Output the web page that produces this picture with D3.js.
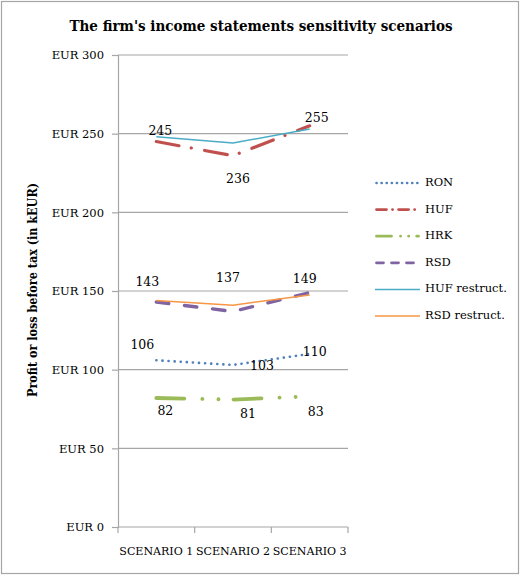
<!DOCTYPE html>
<html>
<head>
<meta charset="utf-8">
<script src="https://cdn.jsdelivr.net/npm/d3@7"></script>
<style>
  html, body { margin: 0; padding: 0; background: #fff; }
  svg { display: block; }
  text { font-family: "DejaVu Serif", "Liberation Serif", serif; fill: #000; }
</style>
</head>
<body>
<svg id="chart" width="520" height="576"></svg>
<script>
// Scenario categories and tick values
const scenarios = ["SCENARIO 1", "SCENARIO 2", "SCENARIO 3"];
const yTicks = [0, 50, 100, 150, 200, 250, 300];

// Profit or loss before tax per series (kEUR)
const ron = [106, 103, 110];
const huf = [245, 236, 255];
const hrk = [82, 81, 83];
const rsd = [143, 137, 149];
const hufRestruct = [248, 244, 253];
const rsdRestruct = [144, 141, 147.5];

const seriesNames = ["RON", "HUF", "HRK", "RSD", "HUF restruct.", "RSD restruct."];
const seriesValues = [ron, huf, hrk, rsd, hufRestruct, rsdRestruct];

const styles = [
  { color: "#4F81BD", width: 2.6, dash: "0.1 6", legendDash: "0.1 5", cap: "round" },
  { color: "#C0504D", width: 3.2, dash: "23 12.5 0.1 13.5", legendDash: "10 6 0.1 6", cap: "round" },
  { color: "#9BBB59", width: 3.8, dash: "28 18 0.1 16 0.1 15", legendDash: "15 9 0.1 8 0.1 8", cap: "round" },
  { color: "#8064A2", width: 3.4, dash: "12.5 15.8", legendDash: "7 8", cap: "round" },
  { color: "#4BACC6", width: 1.5, dash: null, legendDash: null, cap: "butt" },
  { color: "#F79646", width: 1.5, dash: null, legendDash: null, cap: "butt" }
];

// Data label placement offsets (dx, dy) for the labelled series
const labelled = [
  { values: ron, offsets: [[-14, -15], [29, 2], [5, -1]] },
  { values: huf, offsets: [[4, -10], [5, 24], [7, -7]] },
  { values: hrk, offsets: [[9, 14], [15, 15], [6, 16]] },
  { values: rsd, offsets: [[-9, -20], [-5, -33], [-5, -13]] }
];

const svg = d3.select("#chart");

// Outer frame
svg.append("rect")
  .attr("x", 1.5).attr("y", 1.5)
  .attr("width", 517).attr("height", 572)
  .attr("fill", "none").attr("stroke", "#a6a6a6").attr("stroke-width", 1.2);

const plot = { left: 118, right: 348, top: 55, bottom: 527 };

const x = d3.scaleBand().domain(scenarios).range([plot.left, plot.right]);
const y = d3.scaleLinear().domain([0, 300]).range([plot.bottom, plot.top]);

// Horizontal gridlines
svg.append("g")
  .selectAll("line")
  .data(yTicks.filter(t => t > 0))
  .join("line")
  .attr("x1", plot.left).attr("x2", plot.right)
  .attr("y1", d => y(d)).attr("y2", d => y(d))
  .attr("stroke", "#a6a6a6").attr("stroke-width", 1.2);

// Y axis
const yAxis = svg.append("g")
  .attr("transform", `translate(${plot.left},0)`)
  .call(d3.axisLeft(y).tickValues(yTicks).tickSize(6).tickPadding(8)
    .tickFormat(d => "EUR " + d));
yAxis.select(".domain").attr("stroke", "#a6a6a6").attr("stroke-width", 1.2);
yAxis.selectAll(".tick line").attr("stroke", "#a6a6a6").attr("stroke-width", 1.2);
yAxis.selectAll(".tick text")
  .attr("font-family", "DejaVu Serif, serif")
  .attr("font-size", 11.5).attr("fill", "#000");

// X axis with ticks at category boundaries
const xAxisG = svg.append("g").attr("transform", `translate(0,${plot.bottom})`);
xAxisG.append("line")
  .attr("x1", plot.left).attr("x2", plot.right)
  .attr("stroke", "#a6a6a6").attr("stroke-width", 1.2);
const bounds = scenarios.map(s => x(s)).concat([x(scenarios[2]) + x.bandwidth()]);
xAxisG.selectAll("line.tk").data(bounds).join("line")
  .attr("class", "tk")
  .attr("x1", d => d).attr("x2", d => d)
  .attr("y1", 0).attr("y2", 6)
  .attr("stroke", "#a6a6a6").attr("stroke-width", 1.2);
xAxisG.selectAll("text").data(scenarios).join("text")
  .attr("x", d => x(d) + x.bandwidth() / 2)
  .attr("y", 28)
  .attr("text-anchor", "middle")
  .attr("font-size", 11.5)
  .attr("textLength", 74)
  .attr("lengthAdjust", "spacingAndGlyphs")
  .text(d => d);

// Lines
const line = d3.line()
  .x((d, i) => x(scenarios[i]) + x.bandwidth() / 2)
  .y(d => y(d));

seriesValues.forEach((vals, i) => {
  const st = styles[i];
  svg.append("path")
    .datum(vals)
    .attr("d", line)
    .attr("fill", "none")
    .attr("stroke", st.color)
    .attr("stroke-width", st.width)
    .attr("stroke-linecap", st.cap)
    .attr("stroke-linejoin", "round")
    .attr("stroke-dasharray", st.dash);
});

// Data labels
labelled.forEach(s => {
  s.values.forEach((v, i) => {
    svg.append("text")
      .attr("x", x(scenarios[i]) + x.bandwidth() / 2 + s.offsets[i][0])
      .attr("y", y(v) + s.offsets[i][1])
      .attr("text-anchor", "middle")
      .attr("dominant-baseline", "middle")
      .attr("font-size", 12.5)
      .text(v);
  });
});

// Legend
const legend = svg.append("g").attr("transform", "translate(375,183)");
seriesNames.forEach((name, i) => {
  const st = styles[i];
  const g = legend.append("g").attr("transform", `translate(0,${i * 26.6})`);
  g.append("line")
    .attr("x1", st.cap === "round" ? 1.5 : 0).attr("x2", st.cap === "round" ? 43.5 : 45)
    .attr("stroke", st.color)
    .attr("stroke-width", Math.min(st.width, 2.8))
    .attr("stroke-linecap", st.cap)
    .attr("stroke-dasharray", st.legendDash);
  g.append("text")
    .attr("x", 50).attr("y", 0)
    .attr("dominant-baseline", "middle")
    .attr("font-size", 11.5)
    .text(name);
});

// Title
svg.append("text")
  .attr("x", 261).attr("y", 31)
  .attr("text-anchor", "middle")
  .attr("font-weight", "bold")
  .attr("font-size", 14.5)
  .attr("textLength", 383)
  .attr("lengthAdjust", "spacingAndGlyphs")
  .text("The firm's income statements sensitivity scenarios");

// Y axis title
svg.append("text")
  .attr("transform", "translate(37,290) rotate(-90)")
  .attr("text-anchor", "middle")
  .attr("font-weight", "bold")
  .attr("font-size", 12)
  .attr("textLength", 214)
  .attr("lengthAdjust", "spacingAndGlyphs")
  .text("Profit or loss before tax (in kEUR)");
</script>
</body>
</html>
